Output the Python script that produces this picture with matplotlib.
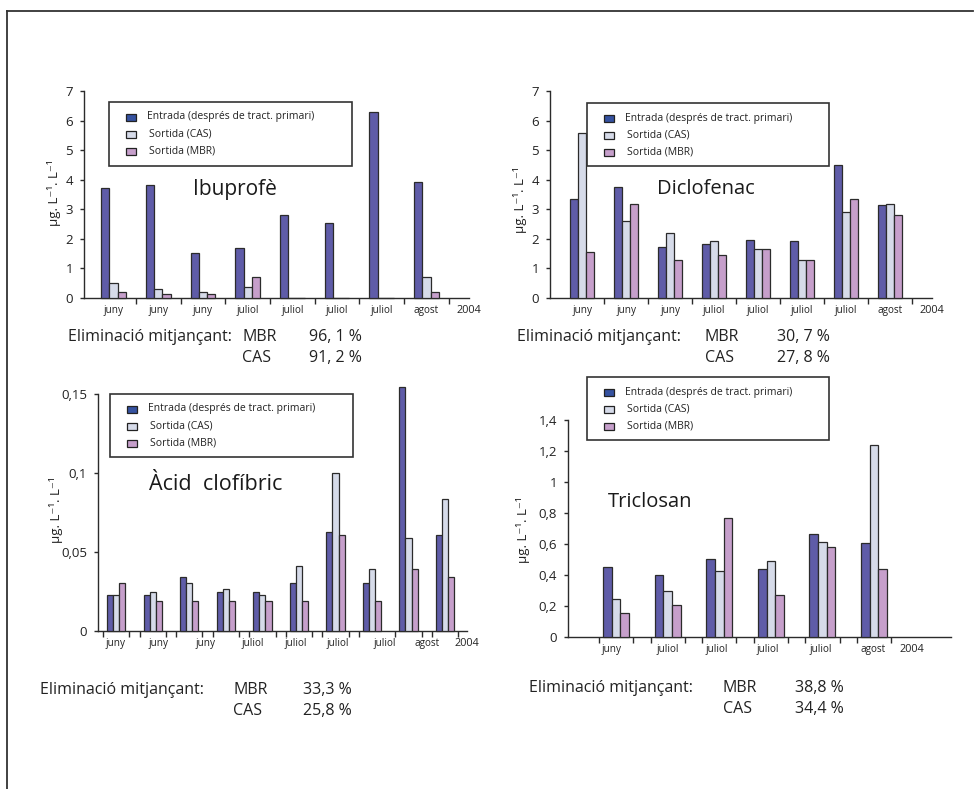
"""
Eliminació de fàrmacs: entrada vs sortida CAS / MBR (4 panells)
Output: out.png
"""

import numpy as np
import matplotlib.pyplot as plt
from matplotlib.patches import Rectangle
from matplotlib.lines import Line2D

W, H = 980, 789
plt.rcParams["font.family"] = ["Open Sans", "DejaVu Sans"]

C_ENTRADA = "#5f5ca8"
C_CAS = "#d6dbe9"
C_MBR = "#c69fcb"
C_EDGE = "#2b2b2b"
C_SWATCH_ENTRADA = "#3552a0"

LEGEND_LABELS = ["Entrada (després de tract. primari)", "Sortida (CAS)", "Sortida (MBR)"]

# ---------------- dades ----------------
IBU_MONTHS = ["juny", "juny", "juny", "juliol", "juliol", "juliol", "juliol", "agost"]
IBU_ENTRADA = [3.71, 3.81, 1.51, 1.69, 2.79, 2.53, 6.30, 3.91]
IBU_CAS = [0.51, 0.31, 0.19, 0.37, 0, 0, 0, 0.71]
IBU_MBR = [0.19, 0.15, 0.15, 0.71, 0, 0, 0, 0.19]
IBU_ELIM = ["96, 1 %", "91, 2 %"]

DIC_MONTHS = ["juny", "juny", "juny", "juliol", "juliol", "juliol", "juliol", "agost"]
DIC_ENTRADA = [3.35, 3.74, 1.73, 1.84, 1.96, 1.92, 4.49, 3.15]
DIC_CAS = [5.58, 2.62, 2.19, 1.92, 1.66, 1.30, 2.91, 3.18]
DIC_MBR = [1.54, 3.18, 1.27, 1.46, 1.66, 1.30, 3.35, 2.79]
DIC_ELIM = ["30, 7 %", "27, 8 %"]

CLO_MONTHS = ["juny", "juny", "juny", "juliol", "juliol", "juliol", "juliol", "agost"]
CLO_ENTRADA = [0.0230, 0.0230, 0.0342, 0.0249, 0.0249, 0.0306, 0.0627, 0.0306, 0.1545, 0.0606]
CLO_CAS = [0.0230, 0.0249, 0.0306, 0.0268, 0.0230, 0.0409, 0.1002, 0.0390, 0.0589, 0.0835]
CLO_MBR = [0.0306, 0.0192, 0.0192, 0.0192, 0.0192, 0.0192, 0.0606, 0.0192, 0.0390, 0.0342]
CLO_ELIM = ["33,3 %", "25,8 %"]

TRI_MONTHS = ["juny", "juliol", "juliol", "juliol", "juliol", "agost"]
TRI_ENTRADA = [0.449, 0.400, 0.501, 0.439, 0.665, 0.609]
TRI_CAS = [0.243, 0.295, 0.424, 0.488, 0.613, 1.237]
TRI_MBR = [0.153, 0.204, 0.768, 0.269, 0.578, 0.439]
TRI_ELIM = ["38,8 %", "34,4 %"]

TXT = "#222222"


def fx(x):
    return x / W


def fy(y):
    return 1 - y / H


def make_axes(fig, x0, x1, y_bot, y_top):
    ax = fig.add_axes([fx(x0), fy(y_bot), (x1 - x0) / W, (y_bot - y_top) / H])
    for s in ["top", "right"]:
        ax.spines[s].set_visible(False)
    for s in ["left", "bottom"]:
        ax.spines[s].set_color(C_EDGE)
        ax.spines[s].set_linewidth(1.0)
    ax.patch.set_alpha(0)
    return ax


def draw_panel(fig, cfg):
    ax = make_axes(fig, *cfg["box"])
    n = len(cfg["entrada"])
    x = np.arange(n)
    w = cfg["bw"]
    kw = dict(edgecolor=C_EDGE, linewidth=0.9, clip_on=False, zorder=3)
    ax.bar(x - w, cfg["entrada"], w, color=C_ENTRADA, **kw)
    ax.bar(x, cfg["cas"], w, color=C_CAS, **kw)
    ax.bar(x + w, cfg["mbr"], w, color=C_MBR, **kw)

    ax.set_xlim(*cfg["xlim"])
    ax.set_ylim(*cfg["ylim"])

    # etiquetes de mesos + any
    pos = list(cfg["label_pos"]) + [cfg["year_pos"]]
    ax.set_xticks(pos)
    ax.set_xticklabels(cfg["months"] + ["2004"], fontsize=7.2)
    ax.get_xticklabels()[-1].set_fontsize(7.8)
    ax.tick_params(axis="x", which="major", length=0, pad=5, colors=TXT)
    ax.set_xticks(cfg["minor"], minor=True)
    ax.tick_params(axis="x", which="minor", length=4, width=1.0, color=C_EDGE, direction="out")

    ax.set_yticks(cfg["yticks"])
    ax.set_yticklabels(cfg["yticklabels"], fontsize=9.5)
    ax.tick_params(axis="y", length=3, width=1.0, color=C_EDGE, pad=5, colors=TXT)

    # títol dins del gràfic
    tx, ty = cfg["title_xy"]
    fig.text(fx(tx), fy(ty), cfg["title"], fontsize=cfg["title_size"],
             ha="left", va="center", color="#1a1a1a")

    # unitats eix y
    lx, ly = cfg["ylabel_xy"]
    fig.text(fx(lx), fy(ly), "µg. L⁻¹. L⁻¹", rotation=90, fontsize=9.5,
             ha="center", va="center", color=TXT)

    # llegenda (caixa manual)
    bx0, by0, bx1, by1 = cfg["legend_box"]
    fig.patches.append(Rectangle((fx(bx0), fy(by1)), (bx1 - bx0) / W, (by1 - by0) / H,
                                 transform=fig.transFigure, fill=False,
                                 edgecolor="#333333", linewidth=1.2))
    rows = [by0 + 15, by0 + 32, by0 + 49]
    sw_x = bx0 + 17
    for i, (lab, col) in enumerate(zip(LEGEND_LABELS, [C_SWATCH_ENTRADA, C_CAS, C_MBR])):
        fig.patches.append(Rectangle((fx(sw_x), fy(rows[i] + 3.5)), 10 / W, 7 / H,
                                     transform=fig.transFigure, facecolor=col,
                                     edgecolor=TXT, linewidth=0.9))
        tx0 = sw_x + 21 if i == 0 else sw_x + 23
        fig.text(fx(tx0), fy(rows[i]), lab, fontsize=7.5, ha="left", va="center", color=TXT)

    # eliminació mitjançant
    ex, ey, mx, vx = cfg["elim_xy"]
    fs = 11.5
    fig.text(fx(ex), fy(ey), "Eliminació mitjançant:", fontsize=fs, ha="left", va="center", color=TXT)
    fig.text(fx(mx), fy(ey), "MBR", fontsize=fs, ha="left", va="center", color=TXT)
    fig.text(fx(vx), fy(ey), cfg["elim"][0], fontsize=fs, ha="left", va="center", color=TXT)
    fig.text(fx(mx), fy(ey + 21), "CAS", fontsize=fs, ha="left", va="center", color=TXT)
    fig.text(fx(vx), fy(ey + 21), cfg["elim"][1], fontsize=fs, ha="left", va="center", color=TXT)
    return ax


def group_edges(n, d):
    return sorted([i - d for i in range(n)] + [i + d for i in range(n)])


PANELS = [
    dict(box=(84, 469, 298, 91), entrada=IBU_ENTRADA, cas=IBU_CAS, mbr=IBU_MBR,
         bw=0.185, xlim=(-0.66, 7.48), ylim=(0, 7),
         months=IBU_MONTHS, label_pos=range(8), year_pos=7.95,
         minor=[i + 0.5 for i in range(8)],
         yticks=range(8), yticklabels=[str(i) for i in range(8)],
         title="Ibuprofè", title_xy=(193, 190), title_size=15,
         ylabel_xy=(54, 193), legend_box=(109, 102, 352, 166),
         elim=IBU_ELIM, elim_xy=(68, 337, 242, 309)),
    dict(box=(550, 932, 298, 91), entrada=DIC_ENTRADA, cas=DIC_CAS, mbr=DIC_MBR,
         bw=0.185, xlim=(-0.73, 7.45), ylim=(0, 7),
         months=DIC_MONTHS, label_pos=range(8), year_pos=7.95,
         minor=[i + 0.5 for i in range(8)],
         yticks=range(8), yticklabels=[str(i) for i in range(8)],
         title="Diclofenac", title_xy=(657, 189), title_size=14.5,
         ylabel_xy=(520, 200), legend_box=(587, 103, 829, 166),
         elim=DIC_ELIM, elim_xy=(517, 337, 705, 777)),
    dict(box=(98, 467, 631, 394), entrada=CLO_ENTRADA, cas=CLO_CAS, mbr=CLO_MBR,
         bw=0.167, xlim=(-0.5, 9.23), ylim=(0, 0.15),
         months=CLO_MONTHS, label_pos=[-0.03, 1.16, 2.43, 3.75, 4.91, 6.07, 7.36, 8.5],
         year_pos=9.6, minor=group_edges(10, 0.36),
         yticks=[0, 0.05, 0.1, 0.15], yticklabels=["0", "0,05", "0,1", "0,15"],
         title="Àcid  clofíbric", title_xy=(149, 485), title_size=15.5,
         ylabel_xy=(56, 510), legend_box=(110, 394, 353, 457),
         elim=CLO_ELIM, elim_xy=(40, 690, 233, 303)),
    dict(box=(568, 951, 637, 420), entrada=TRI_ENTRADA, cas=TRI_CAS, mbr=TRI_MBR,
         bw=0.168, xlim=(-0.93, 6.49), ylim=(0, 1.4),
         months=TRI_MONTHS, label_pos=[-0.08, 1, 1.96, 2.95, 3.97, 4.98],
         year_pos=5.74, minor=group_edges(6, 0.33),
         yticks=[0, 0.2, 0.4, 0.6, 0.8, 1.0, 1.2, 1.4],
         yticklabels=["0", "0,2", "0,4", "0,6", "0,8", "1", "1,2", "1,4"],
         title="Triclosan", title_xy=(608, 502), title_size=14.5,
         ylabel_xy=(523, 530), legend_box=(587, 377, 829, 440),
         elim=TRI_ELIM, elim_xy=(529, 688, 723, 795)),
]

if __name__ == "__main__":
    fig = plt.figure(figsize=(W / 100, H / 100), dpi=100)
    # marc de la pàgina
    fig.add_artist(Line2D([fx(7), fx(7)], [fy(11), 0], transform=fig.transFigure,
                          color="#333333", linewidth=1.3))
    fig.add_artist(Line2D([fx(7), fx(973)], [fy(11), fy(11)], transform=fig.transFigure,
                          color="#333333", linewidth=1.3))
    for cfg in PANELS:
        draw_panel(fig, cfg)
    fig.savefig("out.png", dpi=100)
